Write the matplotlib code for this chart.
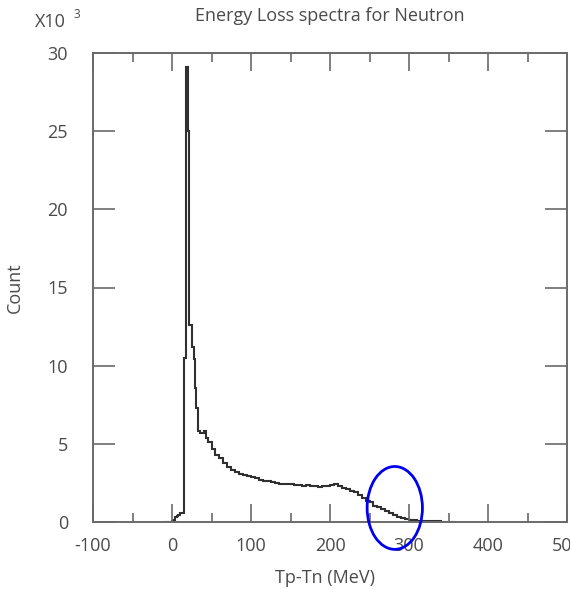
import matplotlib
matplotlib.use("Agg")
import matplotlib.pyplot as plt
from matplotlib.patches import Ellipse
from matplotlib.ticker import MultipleLocator

# Histogram of the energy loss Tp - Tn (MeV): bin edges and counts (x10^3)
bin_edges = [-10, 0, 2, 4, 6, 8, 10, 12, 15, 18, 20, 22, 25, 27.5, 29, 31, 33, 36,
             40, 43, 46, 50, 55, 60, 65, 70, 75, 80, 85, 90, 95, 100, 105, 110,
             115, 120, 125, 130, 135, 140, 145, 150, 155, 160, 165, 170, 175,
             180, 185, 190, 195, 200, 205, 210, 215, 220, 225, 230, 235, 240,
             245, 250, 255, 260, 265, 270, 275, 280, 285, 290, 295, 300, 305,
             310, 320, 330, 340, 350, 360]
counts = [0.0, 0.05, 0.15, 0.3, 0.4, 0.45, 0.55, 0.6, 10.5, 29.1, 25.0, 12.6,
          11.2, 10.4, 8.6, 7.3, 5.8, 5.7, 5.8, 5.4, 5.1, 4.7, 4.3, 4.1, 3.8,
          3.5, 3.3, 3.2, 3.1, 3.0, 2.95, 2.85, 2.8, 2.7, 2.65, 2.6, 2.55, 2.5,
          2.45, 2.45, 2.4, 2.4, 2.35, 2.35, 2.3, 2.35, 2.3, 2.3, 2.25, 2.3,
          2.3, 2.35, 2.4, 2.3, 2.2, 2.1, 2.0, 1.9, 1.7, 1.55, 1.35, 1.25, 1.05,
          0.95, 0.85, 0.7, 0.6, 0.45, 0.3, 0.25, 0.2, 0.12, 0.1, 0.08, 0.06,
          0.05, 0.03, 0.0]

# Highlighted region of the spectrum tail
mark_center = (282, 0.9)
mark_width = 70
mark_height = 5.3

title_text = "Energy Loss spectra for Neutron"
x_label = "Tp-Tn (MeV)"
y_label = "Count"

plt.rcParams['font.family'] = ['Open Sans', 'DejaVu Sans']
plt.rcParams['axes.unicode_minus'] = False
text_color = '#4a4a4a'
axis_color = '#6a6a6a'

fig = plt.figure(figsize=(5.70, 5.89), dpi=100)
ax = fig.add_axes([93 / 570, 1 - 522 / 589, (567 - 93) / 570, (522 - 53) / 589])

ax.stairs(counts, bin_edges, color='#303030', linewidth=1.5)

ax.set_xlim(-100, 500)
ax.set_ylim(0, 30)
ax.xaxis.set_major_locator(MultipleLocator(100))
ax.xaxis.set_minor_locator(MultipleLocator(50))
ax.yaxis.set_major_locator(MultipleLocator(5))

ax.tick_params(axis='both', which='both', direction='in', top=True, right=True,
               color=axis_color, width=1.2, labelcolor=text_color, labelsize=13)
ax.tick_params(axis='x', which='major', length=13, pad=11)
ax.tick_params(axis='x', which='minor', length=6.5)
ax.tick_params(axis='y', which='major', length=16, pad=18)
for s in ax.spines.values():
    s.set_color(axis_color)
    s.set_linewidth(1.4)

ax.set_title(title_text, fontsize=13, color=text_color, pad=23)
ax.set_xlabel(x_label, fontsize=13, color=text_color)
ax.xaxis.set_label_coords(0.49, -0.100)
ax.set_ylabel(y_label, fontsize=13, color=text_color)
ax.yaxis.set_label_coords(-0.145, 0.5)

fig.text(35 / 570, 1 - 22 / 589, "X10", fontsize=13, color=text_color,
         ha='left', va='center')
fig.text(73 / 570, 1 - 14 / 589, "3", fontsize=8.5, color=text_color,
         ha='left', va='center')

ell = Ellipse(mark_center, mark_width, mark_height, fill=False,
              edgecolor='#0000ee', linewidth=2, clip_on=False, zorder=5)
ax.add_patch(ell)

fig.savefig("out.png", dpi=100, facecolor='white')
